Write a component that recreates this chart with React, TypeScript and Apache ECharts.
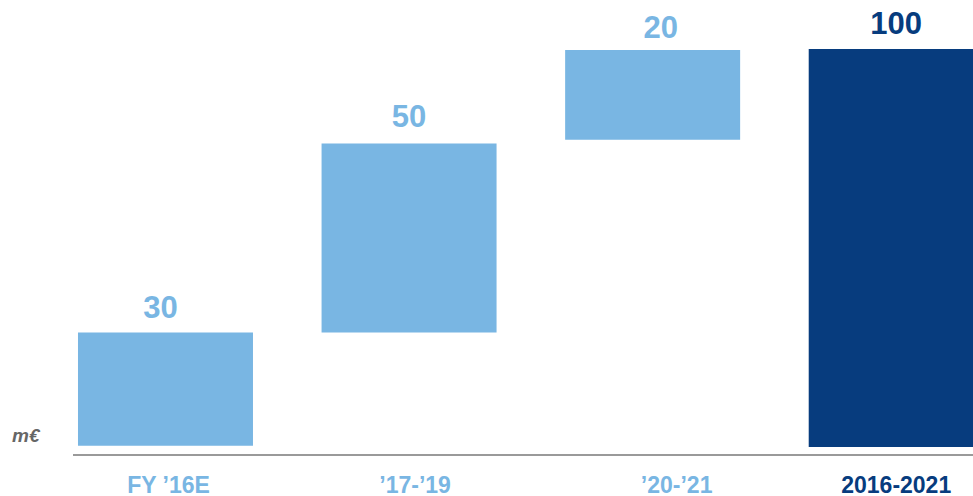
import React, { useEffect, useRef } from "react";
import * as echarts from "echarts";

const categories = ["FY ’16E", "’17-’19", "’20-’21", "2016-2021"];
const valueLabels = ["30", "50", "20", "100"];
const baseValues = [0.3, 28.75, 77.2, 0];
const barValues = [28.45, 47.5, 22.55, 100];
const isTotal = [false, false, false, true];
const unitLabel = "m€";

const LIGHT = "#79B6E3";
const DARK = "#073C7E";

// horizontal nudges (px) of texts, as laid out in the original slide
const axisLabelShift = [3, 6, 24, 0];
const valueLabelShift = [-5, 0, 8, 0];
const valueLabelRise = [0, 2, -3, 0];

export default function App() {
  const ref = useRef<HTMLDivElement>(null);
  useEffect(() => {
    if (!ref.current) return;
    const chart = echarts.init(ref.current, undefined, { renderer: "svg" });
    const font = "'Liberation Sans', Arial, sans-serif";
    const rich: any = {};
    categories.forEach((_, i) => {
      const s = axisLabelShift[i];
      rich["c" + i] = {
        color: isTotal[i] ? DARK : LIGHT,
        fontSize: 23,
        fontWeight: "bold",
        fontFamily: font,
        padding: [0, s < 0 ? -2 * s : 0, 0, s > 0 ? 2 * s : 0],
      };
    });
    chart.setOption({
      animation: false,
      backgroundColor: "#ffffff",
      grid: { left: 43.7, right: 0, top: 49, bottom: 47, containLabel: false },
      xAxis: {
        type: "category",
        data: categories,
        axisLine: { show: false },
        axisTick: { show: false },
        axisLabel: {
          margin: 26,
          interval: 0,
          formatter: (v: string, i: number) => `{c${i}|${v}}`,
          rich,
        },
      },
      yAxis: {
        type: "value",
        min: 0,
        max: 100,
        show: false,
        splitLine: { show: false },
      },
      graphic: [
        {
          type: "line",
          shape: { x1: 73, y1: 455, x2: 973, y2: 455 },
          style: { stroke: "#9a9a9a", lineWidth: 2 },
        },
        {
          type: "text",
          x: 12,
          y: 435,
          style: {
            text: unitLabel,
            fill: "#666666",
            fontSize: 19,
            fontWeight: "bold",
            fontStyle: "italic",
            fontFamily: font,
            verticalAlign: "middle",
          },
        },
      ],
      series: [
        {
          type: "bar",
          stack: "w",
          silent: true,
          barWidth: 175,
          itemStyle: { color: "transparent" },
          data: baseValues,
        },
        {
          type: "bar",
          stack: "w",
          barWidth: 175,
          data: barValues.map((v, i) => ({
            value: v,
            itemStyle: { color: isTotal[i] ? DARK : LIGHT },
            label: {
              color: isTotal[i] ? DARK : LIGHT,
              offset: [valueLabelShift[i], -valueLabelRise[i]],
            },
          })),
          label: {
            show: true,
            position: "top",
            distance: 10,
            fontSize: 31,
            fontWeight: "bold",
            fontFamily: font,
            formatter: (p: any) => valueLabels[p.dataIndex],
          },
        },
      ],
    });
    return () => chart.dispose();
  }, []);
  return (
    <div
      style={{ position: "fixed", left: 0, top: 0, width: 973, height: 496, overflow: "hidden" }}
    >
      <div ref={ref} style={{ width: 1018, height: 496 }} />
    </div>
  );
}
